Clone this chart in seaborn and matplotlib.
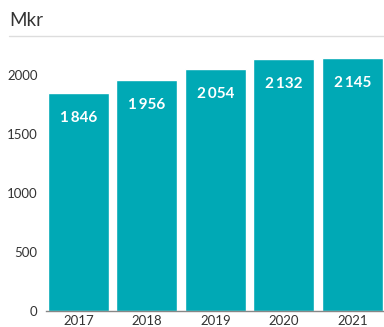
import matplotlib
matplotlib.use("Agg")
import matplotlib.pyplot as plt
import seaborn as sns
import pandas as pd

years = ["2017", "2018", "2019", "2020", "2021"]
values = [1846, 1956, 2054, 2132, 2145]
value_labels = ["1\u2009846", "1\u2009956", "2\u2009054", "2\u2009132", "2\u2009145"]
yticks = [0, 500, 1000, 1500, 2000]
title = "Mkr"

sns.set_theme(style="white")
plt.rcParams["font.family"] = ["Lato", "DejaVu Sans"]

df = pd.DataFrame({"year": years, "value": values})

fig = plt.figure(figsize=(3.84, 3.27), dpi=100)
ax = fig.add_axes([46/384, 16/327, 338/384, (311-45.5)/327])

sns.barplot(data=df, x="year", y="value", color="#00A9B5", saturation=1,
            width=0.89, ax=ax)

ax.set_xlim(-0.474, 4.46)
ax.set_ylim(0, 2250)
ax.set_yticks(yticks)
ax.set_yticklabels([str(t) for t in yticks])
ax.set_xlabel("")
ax.set_ylabel("")
for s in ["top", "right", "left"]:
    ax.spines[s].set_visible(False)
ax.spines["bottom"].set_color("#555555")
ax.spines["bottom"].set_alpha(0.7)
ax.spines["bottom"].set_linewidth(1.0)
ax.spines["bottom"].set_zorder(5)
ax.tick_params(axis="both", colors="#333333", labelsize=9.5, length=0, pad=3)
ax.tick_params(axis="y", pad=6)

for i, (v, lbl) in enumerate(zip(values, value_labels)):
    ax.annotate(lbl, xy=(i, v), xytext=(0, -18), textcoords="offset points",
                ha="center", va="center", color="white", fontsize=11,
                fontweight="bold")

fig.text(9/384, 1 - 20/327, title, ha="left", va="center", fontsize=13.5,
         color="#333333")
fig.add_artist(plt.Line2D([9/384, 1], [1 - 36/327, 1 - 36/327],
                          transform=fig.transFigure, color="#dddddd", lw=1))

fig.savefig("out.png", dpi=100)
